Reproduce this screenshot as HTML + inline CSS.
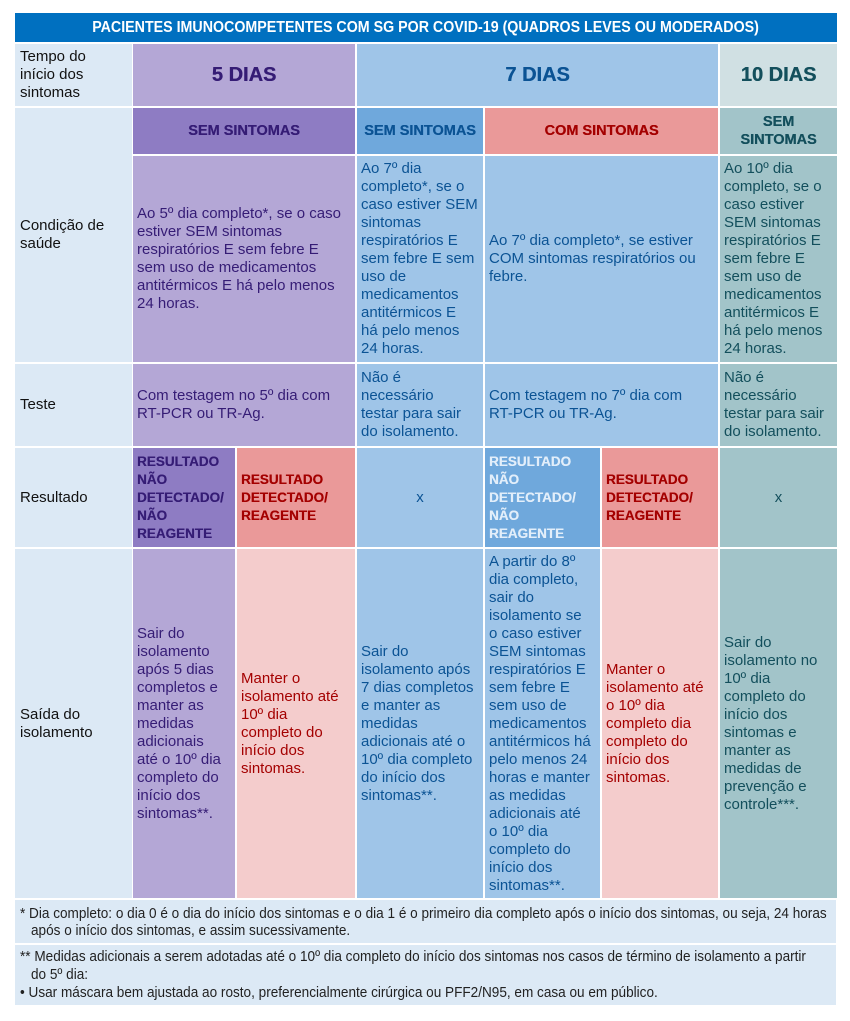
<!DOCTYPE html>
<html><head><meta charset="utf-8">
<style>
*{margin:0;padding:0;box-sizing:border-box}
html,body{width:850px;height:1021px;background:#fff;overflow:hidden}
body{position:relative;font-family:"Liberation Sans",Arial,sans-serif;font-size:15px;line-height:18px}
.c{position:absolute;display:flex;align-items:center;padding:0 4px;white-space:nowrap}
.ctr{justify-content:center;text-align:center}
.L{background:#dce9f5;color:#111;padding-left:5px}
.p2{background:#b4a7d6;color:#351c75}
.p1{background:#8e7cc3;color:#351c75}
.b2{background:#9fc5e8;color:#0b5394}
.b1{background:#6fa8dc;color:#0b5394}
.r2{background:#ea9999;color:#a40000}
.r3{background:#f4cccc;color:#a40000}
.t3{background:#d0e0e3;color:#134f5c}
.t2{background:#a2c4c9;color:#134f5c}
.big{font-weight:bold;font-size:20px;text-shadow:0.4px 0 currentColor}
.sh{font-weight:bold;font-size:14.5px;text-shadow:0.3px 0 currentColor}
.res{font-weight:bold;font-size:13.5px;line-height:18px;text-shadow:0.3px 0 currentColor}
.title{position:absolute;left:15px;top:13px;width:822px;height:29px;background:#0070c0;color:#fff;display:flex;align-items:center;justify-content:center;font-weight:bold;font-size:16px;white-space:nowrap}
.title span{display:inline-block;transform:scaleX(0.89)}
.fn{position:absolute;left:15px;width:821px;background:#dce9f5}
.fl{position:absolute;white-space:nowrap;font-size:15px;line-height:17px;color:#222;transform:scaleX(0.905);transform-origin:0 50%}
</style></head><body>

<div class="title"><span>PACIENTES IMUNOCOMPETENTES COM SG POR COVID-19 (QUADROS LEVES OU MODERADOS)</span></div>

<!-- Row 1 -->
<div class="c L" style="left:15px;top:44px;width:117px;height:62px">Tempo do<br>início dos<br>sintomas</div>
<div class="c ctr p2 big" style="left:133px;top:44px;width:222px;height:62px">5 DIAS</div>
<div class="c ctr b2 big" style="left:357px;top:44px;width:361px;height:62px">7 DIAS</div>
<div class="c ctr t3 big" style="left:720px;top:44px;width:117px;height:62px">10 DIAS</div>

<!-- Row 2 + 3 -->
<div class="c L" style="left:15px;top:108px;width:117px;height:254px">Condição de<br>saúde</div>
<div class="c ctr p1 sh" style="left:133px;top:108px;width:222px;height:46px">SEM SINTOMAS</div>
<div class="c ctr b1 sh" style="left:357px;top:108px;width:126px;height:46px">SEM SINTOMAS</div>
<div class="c ctr r2 sh" style="left:485px;top:108px;width:233px;height:46px">COM SINTOMAS</div>
<div class="c ctr t2 sh" style="left:720px;top:108px;width:117px;height:46px">SEM<br>SINTOMAS</div>

<div class="c p2" style="left:133px;top:156px;width:222px;height:206px">Ao 5º dia completo*, se o caso<br>estiver SEM sintomas<br>respiratórios E sem febre E<br>sem uso de medicamentos<br>antitérmicos E há pelo menos<br>24 horas.</div>
<div class="c b2" style="left:357px;top:156px;width:126px;height:206px">Ao 7º dia<br>completo*, se o<br>caso estiver SEM<br>sintomas<br>respiratórios E<br>sem febre E sem<br>uso de<br>medicamentos<br>antitérmicos E<br>há pelo menos<br>24 horas.</div>
<div class="c b2" style="left:485px;top:156px;width:233px;height:206px">Ao 7º dia completo*, se estiver<br>COM sintomas respiratórios ou<br>febre.</div>
<div class="c t2" style="left:720px;top:156px;width:117px;height:206px">Ao 10º dia<br>completo, se o<br>caso estiver<br>SEM sintomas<br>respiratórios E<br>sem febre E<br>sem uso de<br>medicamentos<br>antitérmicos E<br>há pelo menos<br>24 horas.</div>

<!-- Row 4 -->
<div class="c L" style="left:15px;top:364px;width:117px;height:82px">Teste</div>
<div class="c p2" style="left:133px;top:364px;width:222px;height:82px">Com testagem no 5º dia com<br>RT-PCR ou TR-Ag.</div>
<div class="c b2" style="left:357px;top:364px;width:126px;height:82px">Não é<br>necessário<br>testar para sair<br>do isolamento.</div>
<div class="c b2" style="left:485px;top:364px;width:233px;height:82px">Com testagem no 7º dia com<br>RT-PCR ou TR-Ag.</div>
<div class="c t2" style="left:720px;top:364px;width:117px;height:82px">Não é<br>necessário<br>testar para sair<br>do isolamento.</div>

<!-- Row 5 -->
<div class="c L" style="left:15px;top:448px;width:117px;height:99px">Resultado</div>
<div class="c p1 res" style="left:133px;top:448px;width:102px;height:99px">RESULTADO<br>NÃO<br>DETECTADO/<br>NÃO<br>REAGENTE</div>
<div class="c r2 res" style="left:237px;top:448px;width:118px;height:99px">RESULTADO<br>DETECTADO/<br>REAGENTE</div>
<div class="c ctr b2" style="left:357px;top:448px;width:126px;height:99px">x</div>
<div class="c b1 res" style="left:485px;top:448px;width:115px;height:99px;color:#e2eefa">RESULTADO<br>NÃO<br>DETECTADO/<br>NÃO<br>REAGENTE</div>
<div class="c r2 res" style="left:602px;top:448px;width:116px;height:99px">RESULTADO<br>DETECTADO/<br>REAGENTE</div>
<div class="c ctr t2" style="left:720px;top:448px;width:117px;height:99px">x</div>

<!-- Row 6 -->
<div class="c L" style="left:15px;top:549px;width:117px;height:349px">Saída do<br>isolamento</div>
<div class="c p2" style="left:133px;top:549px;width:102px;height:349px">Sair do<br>isolamento<br>após 5 dias<br>completos e<br>manter as<br>medidas<br>adicionais<br>até o 10º dia<br>completo do<br>início dos<br>sintomas**.</div>
<div class="c r3" style="left:237px;top:549px;width:118px;height:349px">Manter o<br>isolamento até<br>10º dia<br>completo do<br>início dos<br>sintomas.</div>
<div class="c b2" style="left:357px;top:549px;width:126px;height:349px">Sair do<br>isolamento após<br>7 dias completos<br>e manter as<br>medidas<br>adicionais até o<br>10º dia completo<br>do início dos<br>sintomas**.</div>
<div class="c b2" style="left:485px;top:549px;width:115px;height:349px">A partir do 8º<br>dia completo,<br>sair do<br>isolamento se<br>o caso estiver<br>SEM sintomas<br>respiratórios E<br>sem febre E<br>sem uso de<br>medicamentos<br>antitérmicos há<br>pelo menos 24<br>horas e manter<br>as medidas<br>adicionais até<br>o 10º dia<br>completo do<br>início dos<br>sintomas**.</div>
<div class="c r3" style="left:602px;top:549px;width:116px;height:349px">Manter o<br>isolamento até<br>o 10º dia<br>completo dia<br>completo do<br>início dos<br>sintomas.</div>
<div class="c t2" style="left:720px;top:549px;width:117px;height:349px">Sair do<br>isolamento no<br>10º dia<br>completo do<br>início dos<br>sintomas e<br>manter as<br>medidas de<br>prevenção e<br>controle***.</div>

<!-- Footnotes -->
<div class="fn" style="top:900px;height:43px"></div>
<div class="fl" style="left:20px;top:905px">* Dia completo: o dia 0 é o dia do início dos sintomas e o dia 1 é o primeiro dia completo após o início dos sintomas, ou seja, 24 horas</div>
<div class="fl" style="left:31px;top:922px">após o início dos sintomas, e assim sucessivamente.</div>

<div class="fn" style="top:945px;height:60px"></div>
<div class="fl" style="left:20px;top:948px">** Medidas adicionais a serem adotadas até o 10º dia completo do início dos sintomas nos casos de término de isolamento a partir</div>
<div class="fl" style="left:31px;top:966px">do 5º dia:</div>
<div class="fl" style="left:20px;top:984px">• Usar máscara bem ajustada ao rosto, preferencialmente cirúrgica ou PFF2/N95, em casa ou em público.</div>

</body></html>
